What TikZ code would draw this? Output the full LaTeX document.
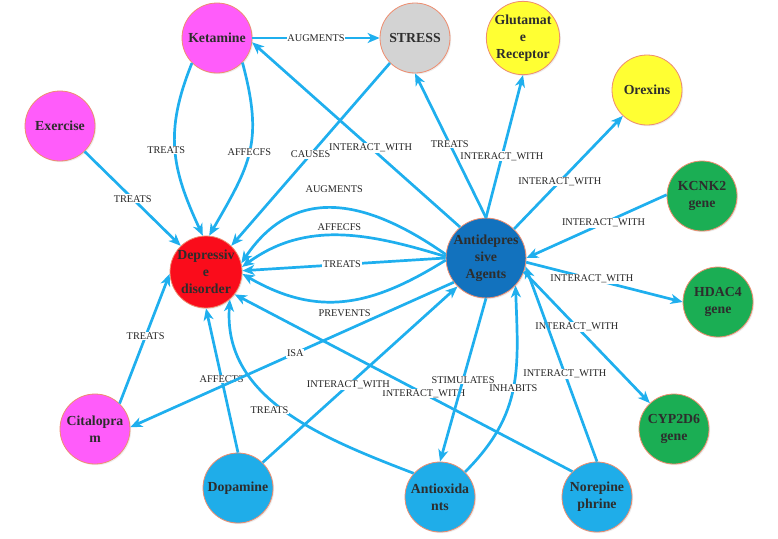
\documentclass[tikz,border=0pt]{standalone}
\usepackage{fontspec}
\setmainfont{Liberation Serif}
\usetikzlibrary{arrows.meta,shadows}

\definecolor{linkblue}{RGB}{31,175,238}
\definecolor{rimorange}{RGB}{238,140,110}
\definecolor{magentafill}{RGB}{255,92,250}
\definecolor{stressgray}{RGB}{211,211,211}
\definecolor{yellowfill}{RGB}{255,255,51}
\definecolor{greenfill}{RGB}{27,174,84}
\definecolor{agentblue}{RGB}{18,114,190}
\definecolor{disorderred}{RGB}{250,12,27}
\definecolor{skyfill}{RGB}{31,173,233}
\definecolor{inktext}{RGB}{45,45,45}

\begin{document}
\begin{tikzpicture}[x=1pt,y=-1pt,
  concept/.style={circle, draw=rimorange, line width=0.8pt, minimum size=70pt, inner sep=0pt,
    align=center, text=inktext, font=\fontsize{13.8}{17}\selectfont\bfseries,
    drop shadow={opacity=0.15, shadow xshift=1.2pt, shadow yshift=-1.2pt}},
  rel/.style={draw=linkblue, line width=2.7pt, -{Stealth[length=12pt,width=10pt,inset=3.5pt]}},
  lbl/.style={fill=white, inner sep=0.8pt, text=black!85, font=\fontsize{10.3}{12}\selectfont}]
  \useasboundingbox (0,0) rectangle (778,538);

  % concepts
  \node[concept, fill=magentafill] (ket) at (217,38) {Ketamine};
  \node[concept, fill=stressgray] (stress) at (415,38) {STRESS};
  \node[concept, fill=yellowfill] (glut) at (523,38) {Glutamat\\e\\Receptor};
  \node[concept, fill=yellowfill] (orex) at (647,90) {Orexins};
  \node[concept, fill=greenfill] (kcnk) at (702,196) {KCNK2\\gene};
  \node[concept, fill=agentblue, minimum size=74pt] (anti) at (486,258) {Antidepres\\sive\\Agents};
  \node[concept, fill=magentafill] (exer) at (60,126) {Exercise};
  \node[concept, fill=disorderred, minimum size=72pt] (dep) at (206,272) {Depressiv\\e\\disorder};
  \node[concept, fill=greenfill] (hdac) at (718,302) {HDAC4\\gene};
  \node[concept, fill=greenfill] (cyp) at (674,429) {CYP2D6\\gene};
  \node[concept, fill=skyfill] (antiox) at (440,497) {Antioxida\\nts};
  \node[concept, fill=skyfill] (norep) at (597,497) {Norepine\\phrine};
  \node[concept, fill=magentafill] (cital) at (95,429) {Citalopra\\m};
  \node[concept, fill=skyfill] (dopa) at (238,488) {Dopamine};

  % relations
  \draw[rel] (ket) -- node[lbl] {AUGMENTS} (stress);
  \draw[rel] (ket.225) to[out=248, in=115, looseness=1.1] node[lbl, xshift=-9pt] {TREATS} (dep.95);
  \draw[rel] (ket.316) to[out=-75, in=60, looseness=1.2] node[lbl] {AFFECFS} (dep.85);
  \draw[rel] (stress.225) -- node[lbl] {CAUSES} (dep.46);
  \draw[rel] (exer.314) -- node[lbl] {TREATS} (dep.134);
  \draw[rel] (cital.46) -- node[lbl, pos=0.52] {TREATS} (dep.183);
  \draw[rel] (dopa.north) -- node[lbl, pos=0.51] {AFFECTS} (dep.south);
  \draw[rel] (antiox.138) to[out=159, in=266] node[lbl, xshift=-15pt] {TREATS} (dep.311);
  \draw[rel] (norep.134) -- node[lbl, pos=0.44] {INTERACT\_WITH} (dep.322);
  \draw[rel] (dopa.46) -- node[lbl, pos=0.44] {INTERACT\_WITH} (anti.225);

  \draw[rel] (anti.175) to[out=145, in=56, looseness=1.2] node[lbl, yshift=19pt] {AUGMENTS} (dep.14);
  \draw[rel] (anti.178) to[out=163, in=36] node[lbl, yshift=8pt] {AFFECFS} (dep.8);
  \draw[rel] (anti.west) -- node[lbl, pos=0.51] {TREATS} (dep.2);
  \draw[rel] (anti.183) to[out=212, in=330, looseness=1.1] node[lbl, yshift=-12pt] {PREVENTS} (dep.357);
  \draw[rel] (anti.217) -- node[lbl, pos=0.49] {ISA} (cital.3);

  \draw[rel] (anti.130) -- node[lbl, pos=0.43] {INTERACT\_WITH} (ket.353);
  \draw[rel] (anti.north) -- node[lbl, pos=0.51] {TREATS} (stress.south);
  \draw[rel] (anti.north) -- node[lbl, pos=0.43] {INTERACT\_WITH} (glut.south);
  \draw[rel] (anti.46) -- node[lbl, pos=0.42] {INTERACT\_WITH} (orex.227);
  \draw[rel] (kcnk.178) -- node[lbl, pos=0.45] {INTERACT\_WITH} (anti.east);
  \draw[rel] (anti.354) -- node[lbl, pos=0.42] {INTERACT\_WITH} (hdac.west);
  \draw[rel] (anti.340) -- node[lbl, pos=0.42] {INTERACT\_WITH} (cyp.133);
  \draw[rel] (norep.north) -- node[lbl, pos=0.45] {INTERACT\_WITH} (anti.348);
  \draw[rel] (anti.south) -- node[lbl] {STIMULATES} (antiox.north);
  \draw[rel] (antiox.45) to[out=45, in=272, looseness=1.1] node[lbl] {INHABITS} (anti.317);
\end{tikzpicture}
\end{document}
